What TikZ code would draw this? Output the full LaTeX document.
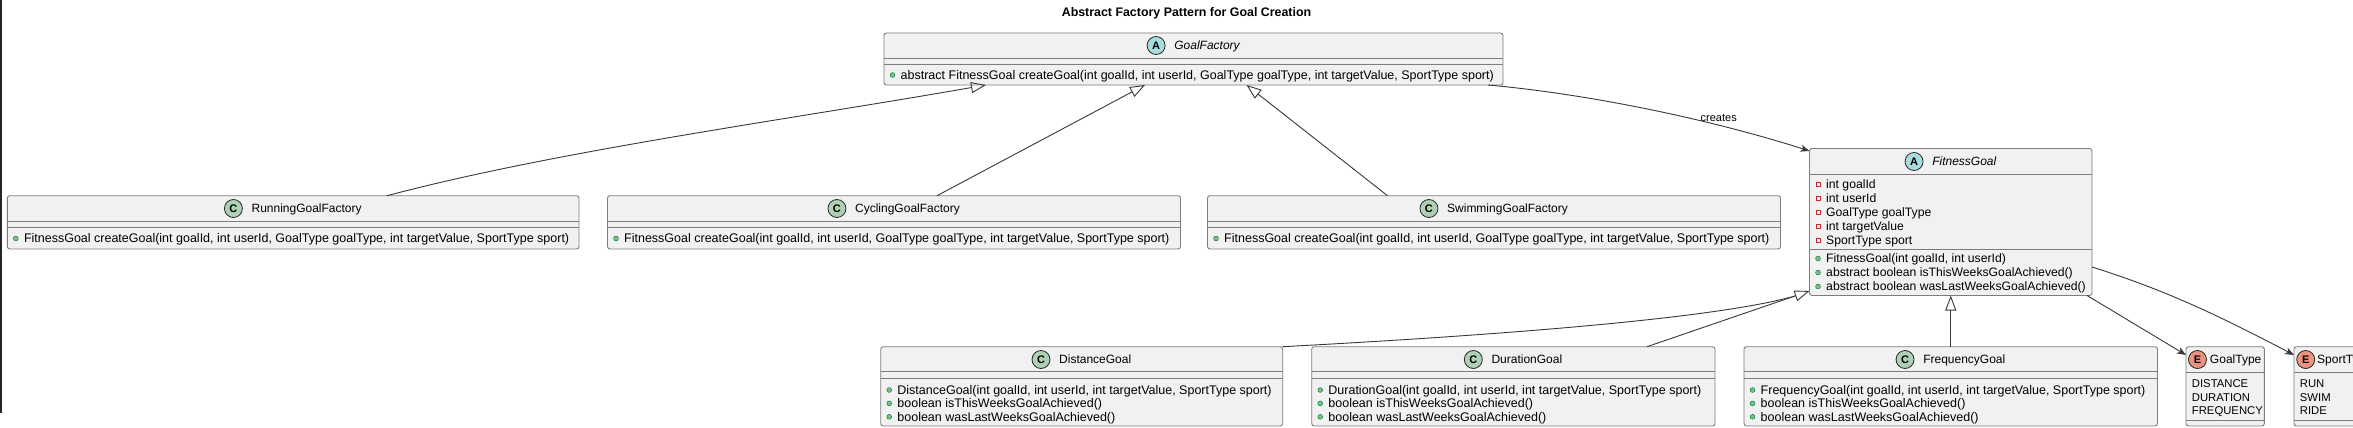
\documentclass[tikz,border=0pt]{standalone}
\usepackage{fontspec}
\setmainfont{Liberation Sans}
\usetikzlibrary{arrows.meta,calc}
\definecolor{boxfill}{HTML}{F1F1F1}
\definecolor{boxline}{HTML}{7D7D7D}
\definecolor{lnk}{HTML}{383838}
\definecolor{acol}{HTML}{A9DCDF}
\definecolor{ccol}{HTML}{ADD1B2}
\definecolor{ecol}{HTML}{EB937F}
\definecolor{pubf}{HTML}{84BE84}
\definecolor{publ}{HTML}{038048}
\definecolor{privl}{HTML}{C82930}
\newcommand\memfont{\fontsize{12.5}{14}\selectfont}
\newcommand\litfont{\fontsize{11.3}{13}\selectfont}
\newcommand\hdrfont{\fontsize{12}{14}\selectfont}
% public member row: name, box left x, row centre y, text
\newcommand\pubrow[4]{%
  \filldraw[fill=pubf, draw=publ, line width=0.5pt] (#2+8.5,#3) circle (2.4pt);
  \node[member] (#1) at (#2+16.5,#3+4.2) {#4};}
% private member row
\newcommand\privrow[4]{%
  \draw[privl, line width=0.8pt] (#2+6.5,#3-2.2) rectangle (#2+10.9,#3+2.2);
  \node[member] (#1) at (#2+16.5,#3+4.2) {#4};}
% enum literal row
\newcommand\litrow[4]{\node[member, font=\litfont] (#1) at (#2+5.7,#3+4.2) {#4};}
% class header: name, centre x, centre y, letter, colour, text
\newcommand\classhdr[6]{%
  \node[hdrtext] (#1) at (#2+13.5,#3+4.3) {#6};
  \node[badge, fill=#5] (#1-b) at ([shift={(-18pt,4.3pt)}]#1.base west) {#4};}
% enum header
\newcommand\enumhdr[6]{%
  \node[hdrtext] (#1) at (#2+10.5,#3+4.3) {#6};
  \node[badge, fill=#5] (#1-b) at ([shift={(-12.3pt,4.3pt)}]#1.base west) {#4};}
\begin{document}
\begin{tikzpicture}[x=1pt,y=-1pt,
  umlbox/.style={draw=boxline, fill=boxfill, line width=0.9pt, rounded corners=2.5pt, inner sep=0pt, outer sep=0pt, anchor=north west},
  sepline/.style={draw=boxline, line width=0.9pt},
  member/.style={anchor=base west, inner sep=0pt, font=\memfont, text=black},
  hdrtext/.style={anchor=base, inner sep=0pt, font=\hdrfont},
  badge/.style={circle, draw=black!85, line width=0.8pt, minimum size=18pt, inner sep=0pt, font=\fontsize{11}{11}\selectfont\bfseries},
  link/.style={draw=lnk, line width=0.9pt},
  inherit/.style={link, -{Triangle[open, length=15pt, width=11pt]}},
  assoc/.style={link, -{Stealth[length=9pt, width=7pt, inset=2.5pt]}},
]
\path[use as bounding box] (0,0) rectangle (2353,428);
\clip (0,0) rectangle (2353,428);
\fill[white] (0,0) rectangle (2353,428);
\fill[black!85] (0,0) rectangle (2.3,413);

\node[anchor=base, inner sep=0pt, font=\fontsize{12.4}{14}\selectfont\bfseries] (title) at (1186.5,16.5) {Abstract Factory Pattern for Goal Creation};

% GoalFactory
\node[umlbox, minimum width=619pt, minimum height=52pt] (gf) at (884,33) {};
\draw[sepline] (884,58.5) -- (1503,58.5);
\draw[sepline] (884,64.5) -- (1503,64.5);
\classhdr{gf-h}{1193.5}{45.5}{A}{acol}{\itshape GoalFactory}
\pubrow{gf-m1}{884}{75}{abstract FitnessGoal createGoal(int goalId, int userId, GoalType goalType, int targetValue, SportType sport)}

% factories
\node[umlbox, minimum width=571.7pt, minimum height=53.3pt] (rgf) at (7.3,195.7) {};
\draw[sepline] (7.3,221.5) -- (579,221.5);
\draw[sepline] (7.3,227.5) -- (579,227.5);
\classhdr{rgf-h}{293.15}{208.5}{C}{ccol}{RunningGoalFactory}
\pubrow{rgf-m1}{7.3}{238.5}{FitnessGoal createGoal(int goalId, int userId, GoalType goalType, int targetValue, SportType sport)}

\node[umlbox, minimum width=573pt, minimum height=53.3pt] (cgf) at (607.5,195.7) {};
\draw[sepline] (607.5,221.5) -- (1180.5,221.5);
\draw[sepline] (607.5,227.5) -- (1180.5,227.5);
\classhdr{cgf-h}{894}{208.5}{C}{ccol}{CyclingGoalFactory}
\pubrow{cgf-m1}{607.5}{238.5}{FitnessGoal createGoal(int goalId, int userId, GoalType goalType, int targetValue, SportType sport)}

\node[umlbox, minimum width=573pt, minimum height=53.3pt] (sgf) at (1207.5,195.7) {};
\draw[sepline] (1207.5,221.5) -- (1780.5,221.5);
\draw[sepline] (1207.5,227.5) -- (1780.5,227.5);
\classhdr{sgf-h}{1494}{208.5}{C}{ccol}{SwimmingGoalFactory}
\pubrow{sgf-m1}{1207.5}{238.5}{FitnessGoal createGoal(int goalId, int userId, GoalType goalType, int targetValue, SportType sport)}

% FitnessGoal
\node[umlbox, minimum width=282.5pt, minimum height=147pt] (fg) at (1809.5,148.5) {};
\draw[sepline] (1809.5,174.5) -- (2092,174.5);
\draw[sepline] (1809.5,249) -- (2092,249);
\classhdr{fg-h}{1950.75}{161.5}{A}{acol}{\itshape FitnessGoal}
\begin{scope}[member/.append style={font=\fontsize{12.2}{14}\selectfont}]
\privrow{fg-a1}{1809.5}{184.5}{int goalId}
\privrow{fg-a2}{1809.5}{198.4}{int userId}
\privrow{fg-a3}{1809.5}{212.3}{GoalType goalType}
\privrow{fg-a4}{1809.5}{226.2}{int targetValue}
\privrow{fg-a5}{1809.5}{240.1}{SportType sport}
\pubrow{fg-m1}{1809.5}{258.5}{FitnessGoal(int goalId, int userId)}
\pubrow{fg-m2}{1809.5}{272.5}{abstract boolean isThisWeeksGoalAchieved()}
\pubrow{fg-m3}{1809.5}{286.5}{abstract boolean wasLastWeeksGoalAchieved()}
\end{scope}

% concrete goals
\node[umlbox, minimum width=402pt, minimum height=79.3pt] (dg) at (880.7,346.7) {};
\draw[sepline] (880.7,371.7) -- (1282.7,371.7);
\draw[sepline] (880.7,378.7) -- (1282.7,378.7);
\classhdr{dg-h}{1081.7}{359.5}{C}{ccol}{DistanceGoal}
\pubrow{dg-m1}{880.7}{390}{DistanceGoal(int goalId, int userId, int targetValue, SportType sport)}
\pubrow{dg-m2}{880.7}{403.4}{boolean isThisWeeksGoalAchieved()}
\pubrow{dg-m3}{880.7}{416.8}{boolean wasLastWeeksGoalAchieved()}

\node[umlbox, minimum width=403.3pt, minimum height=79.3pt] (ug) at (1311.7,346.7) {};
\draw[sepline] (1311.7,371.7) -- (1715,371.7);
\draw[sepline] (1311.7,378.7) -- (1715,378.7);
\classhdr{ug-h}{1513.35}{359.5}{C}{ccol}{DurationGoal}
\pubrow{ug-m1}{1311.7}{390}{DurationGoal(int goalId, int userId, int targetValue, SportType sport)}
\pubrow{ug-m2}{1311.7}{403.4}{boolean isThisWeeksGoalAchieved()}
\pubrow{ug-m3}{1311.7}{416.8}{boolean wasLastWeeksGoalAchieved()}

\node[umlbox, minimum width=413.5pt, minimum height=79.3pt] (qg) at (1744,346.7) {};
\draw[sepline] (1744,371.7) -- (2157.5,371.7);
\draw[sepline] (1744,378.7) -- (2157.5,378.7);
\classhdr{qg-h}{1950.75}{359.5}{C}{ccol}{FrequencyGoal}
\pubrow{qg-m1}{1744}{390}{FrequencyGoal(int goalId, int userId, int targetValue, SportType sport)}
\pubrow{qg-m2}{1744}{403.4}{boolean isThisWeeksGoalAchieved()}
\pubrow{qg-m3}{1744}{416.8}{boolean wasLastWeeksGoalAchieved()}

% enums
\node[umlbox, minimum width=78.3pt, minimum height=79.3pt] (gt) at (2186,346.7) {};
\draw[sepline] (2186,372.7) -- (2264.3,372.7);
\draw[sepline] (2186,420) -- (2264.3,420);
\enumhdr{gt-h}{2225.15}{359.5}{E}{ecol}{GoalType}
\litrow{gt-l1}{2186}{383.5}{DISTANCE}
\litrow{gt-l2}{2186}{397}{DURATION}
\litrow{gt-l3}{2186}{410.5}{FREQUENCY}

\node[umlbox, minimum width=90pt, minimum height=79.3pt] (st) at (2294,346.7) {};
\draw[sepline] (2294,372.7) -- (2384,372.7);
\draw[sepline] (2294,420) -- (2384,420);
\node[hdrtext, anchor=base west] (st-h) at (2317,363.8) {SportType};
\node[badge, fill=ecol] (st-h-b) at ([shift={(-11.3pt,4.3pt)}]st-h.base west) {E};
\litrow{st-l1}{2294}{383.5}{RUN}
\litrow{st-l2}{2294}{397}{SWIM}
\litrow{st-l3}{2294}{410.5}{RIDE}

% connectors
\draw[inherit] ([xshift=379.7pt]rgf.north west) .. controls +(170,-45) and +(-200,35) .. ([xshift=102pt]gf.south west);
\draw[inherit] ([xshift=329.5pt]cgf.north west) -- ([xshift=261pt]gf.south west);
\draw[inherit] ([xshift=180pt]sgf.north west) -- ([xshift=362.5pt]gf.south west);
\draw[assoc] ([xshift=-15pt]gf.south east) .. controls +(100,9) and +(-100,-32) .. ([yshift=-2.5pt]fg.north west);
\node[anchor=base, inner sep=0pt, font=\fontsize{11}{13}\selectfont] (lbl-creates) at (1718.7,121) {creates};

\coordinate (fgjoin) at ([shift={(-14.2pt,-0.4pt)}]fg.south west);
\draw[link] (dg.north east) .. controls +(150,-8) and +(-90,26) .. (fgjoin);
\draw[inherit] ([xshift=335.3pt]ug.north west) -- ([yshift=4.5pt]fg.south west);
\draw[inherit] (qg.north) -- (fg.south);
\draw[assoc] ([xshift=-5pt]fg.south east) -- ([yshift=-8.3pt]gt.north west);
\draw[assoc] ([yshift=-45pt]fg.east) .. controls +(70,22) and +(-80,-42) .. ([yshift=-8.3pt]st.north west);
\end{tikzpicture}
\end{document}
